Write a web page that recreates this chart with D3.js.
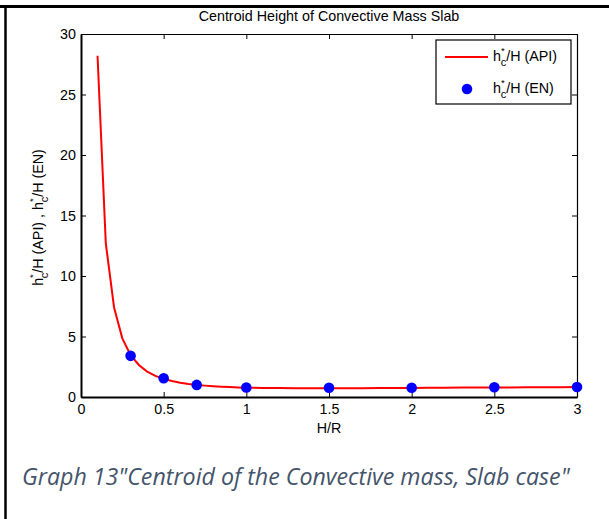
<!DOCTYPE html>
<html>
<head>
<meta charset="utf-8">
<script src="https://cdn.jsdelivr.net/npm/d3@7"></script>
<style>
  html, body { margin: 0; padding: 0; background: #fff; }
  svg { display: block; }
</style>
</head>
<body>
<svg id="chart" width="609" height="519"></svg>
<script>
// ---- data ----
const titleText = "Centroid Height of Convective Mass Slab";
const xLabelText = "H/R";
const captionText = "Graph 13\"Centroid of the Convective mass, Slab case\"";
const xTicks = [0, 0.5, 1, 1.5, 2, 2.5, 3];
const xTickLabels = ["0", "0.5", "1", "1.5", "2", "2.5", "3"];
const yTicks = [0, 5, 10, 15, 20, 25, 30];
const yTickLabels = ["0", "5", "10", "15", "20", "25", "30"];
// API curve (hc*/H vs H/R)
const apiX = [0.10, 0.15, 0.20, 0.25, 0.30, 0.35, 0.40, 0.45, 0.50, 0.55, 0.60, 0.65, 0.70, 0.75, 0.80, 0.85, 0.90, 0.95, 1.00,
              1.1, 1.2, 1.3, 1.4, 1.5, 1.6, 1.7, 1.8, 1.9, 2.0, 2.1, 2.2, 2.3, 2.4, 2.5, 2.6, 2.7, 2.8, 2.9, 3.0];
const apiY = [28.2, 12.7, 7.4, 4.85, 3.45, 2.65, 2.1, 1.75, 1.5, 1.33, 1.18, 1.08, 1.0, 0.94, 0.89, 0.85, 0.82, 0.79, 0.77,
              0.75, 0.74, 0.73, 0.72, 0.72, 0.725, 0.73, 0.74, 0.745, 0.75, 0.76, 0.765, 0.775, 0.78, 0.79, 0.795, 0.80, 0.81, 0.815, 0.82];
// EN points
const enX = [0.3, 0.5, 0.7, 1.0, 1.5, 2.0, 2.5, 3.0];
const enY = [3.4, 1.55, 1.0, 0.78, 0.76, 0.77, 0.8, 0.83];

// ---- layout ----
const svg = d3.select("#chart");
const L = 81, R = 577, T = 34, B = 397;
const x = d3.scaleLinear().domain([0, 3]).range([L, R]);
const y = d3.scaleLinear().domain([0, 30]).range([B, T]);
const font = "'Liberation Sans', Arial, sans-serif";
const fs = 14.3;

// page border (top and left)
svg.append("line").attr("x1", 0).attr("x2", 609).attr("y1", 6.5).attr("y2", 6.5)
  .attr("stroke", "#000").attr("stroke-width", 3);
svg.append("line").attr("x1", 5.5).attr("x2", 5.5).attr("y1", 5).attr("y2", 519)
  .attr("stroke", "#000").attr("stroke-width", 2.5);

// title
svg.append("text").attr("x", (L + R) / 2).attr("y", 20.5)
  .attr("text-anchor", "middle").attr("font-family", font).attr("font-size", fs)
  .attr("fill", "#000").text(titleText);

// axes (MATLAB style: ticks inside, box on)
const tickLen = 5;
const axB = svg.append("g").attr("transform", `translate(0,${B})`)
  .call(d3.axisBottom(x).tickValues(xTicks).tickSizeInner(-tickLen).tickSizeOuter(0)
    .tickFormat((d, i) => xTickLabels[i]).tickPadding(7));
const axT = svg.append("g").attr("transform", `translate(0,${T})`)
  .call(d3.axisTop(x).tickValues(xTicks).tickSizeInner(-tickLen).tickSizeOuter(0).tickFormat(""));
const axL = svg.append("g").attr("transform", `translate(${L},0)`)
  .call(d3.axisLeft(y).tickValues(yTicks).tickSizeInner(-tickLen).tickSizeOuter(0)
    .tickFormat((d, i) => yTickLabels[i]).tickPadding(5));
const axR = svg.append("g").attr("transform", `translate(${R},0)`)
  .call(d3.axisRight(y).tickValues(yTicks).tickSizeInner(-tickLen).tickSizeOuter(0).tickFormat(""));

[axB, axT, axL, axR].forEach(g => {
  g.selectAll("text").attr("font-family", font).attr("font-size", fs).attr("fill", "#000");
  g.selectAll(".tick line").attr("stroke", "#000").attr("stroke-width", 1);
});
axB.select(".domain").attr("stroke", "#000").attr("stroke-width", 2);
axL.select(".domain").attr("stroke", "#000").attr("stroke-width", 2);
axT.select(".domain").attr("stroke", "#000").attr("stroke-width", 1.2);
axR.select(".domain").attr("stroke", "#000").attr("stroke-width", 1.2);

// x label
svg.append("text").attr("x", (L + R) / 2).attr("y", 433)
  .attr("text-anchor", "middle").attr("font-family", font).attr("font-size", fs)
  .attr("fill", "#000").text(xLabelText);

// helper: h_c^* label pieces
function hcLabel(sel, suffix) {
  sel.append("tspan").text("h");
  sel.append("tspan").attr("dy", -7).attr("font-size", 9.5).text("*");
  sel.append("tspan").attr("dx", -4).attr("dy", 12).attr("font-size", 11).text("c");
  sel.append("tspan").attr("dy", -5).text(suffix);
}

// y label
const yl = svg.append("text")
  .attr("transform", `translate(43,${(T + B) / 2 + 2}) rotate(-90)`)
  .attr("text-anchor", "middle").attr("font-family", font).attr("font-size", fs).attr("fill", "#000");
hcLabel(yl, "/H (API) , ");
yl.append("tspan").text("h");
yl.append("tspan").attr("dy", -7).attr("font-size", 9.5).text("*");
yl.append("tspan").attr("dx", -4).attr("dy", 12).attr("font-size", 11).text("c");
yl.append("tspan").attr("dy", -5).text("/H (EN)");

// API line
const line = d3.line().x((d, i) => x(apiX[i])).y(d => y(d));
svg.append("path").datum(apiY).attr("d", line)
  .attr("fill", "none").attr("stroke", "#ff0000").attr("stroke-width", 2);

// EN points
svg.append("g").selectAll("circle").data(enY).join("circle")
  .attr("cx", (d, i) => x(enX[i])).attr("cy", d => y(d)).attr("r", 5.3)
  .attr("fill", "#0000ff");

// legend
const lg = svg.append("g");
lg.append("rect").attr("x", 436).attr("y", 40).attr("width", 135).attr("height", 64)
  .attr("fill", "#fff").attr("stroke", "#000").attr("stroke-width", 1.2);
lg.append("line").attr("x1", 445).attr("x2", 488).attr("y1", 57).attr("y2", 57)
  .attr("stroke", "#ff0000").attr("stroke-width", 2);
lg.append("circle").attr("cx", 467).attr("cy", 89).attr("r", 5.3).attr("fill", "#0000ff");
const t1 = lg.append("text").attr("x", 493).attr("y", 61).attr("font-family", font)
  .attr("font-size", fs).attr("fill", "#000");
hcLabel(t1, "/H (API)");
const t2 = lg.append("text").attr("x", 493).attr("y", 93).attr("font-family", font)
  .attr("font-size", fs).attr("fill", "#000");
hcLabel(t2, "/H (EN)");

// caption
const cap = svg.append("text").attr("x", 22).attr("y", 485)
  .attr("font-family", "'Open Sans', 'Noto Sans', sans-serif").attr("font-style", "italic")
  .attr("font-size", 20).attr("fill", "#44546a").text(captionText);
const w = cap.node().getComputedTextLength();
cap.attr("font-size", 20 * 548 / w);
</script>
</body>
</html>
